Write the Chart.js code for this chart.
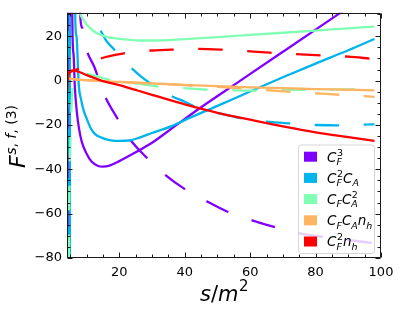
<!DOCTYPE html>
<html><head><meta charset="utf-8">
<script src="https://cdn.jsdelivr.net/npm/chart.js@4.4.0/dist/chart.umd.min.js"></script>
<style>html,body{margin:0;padding:0;background:#fff;}</style>
</head><body>
<canvas id="c" width="401" height="312"></canvas>
<script>
// ---- axis ranges & ticks ----
const xRange = [4, 100];
const yRange = [-80, 30.6];
const xTickValues = [20, 40, 60, 80, 100];
const yTickValues = [-80, -60, -40, -20, 0, 20];
const minorStep = 5;

// ---- legend / series names ----
const legendLabels = ['C_F^3', 'C_F^2C_A', 'C_FC_A^2', 'C_FC_An_h', 'C_F^2n_h'];
const seriesColors = ['#8000ff', '#00b4ec', '#80ffb4', '#ffb462', '#ff0000'];

// ---- data ----
const cf3SolidX = [4.1, 4.3, 5.6, 6.0, 6.4, 7.0, 7.6, 8.5, 10, 11.5, 13.5, 15, 17, 20, 25, 30, 37, 45, 57, 70, 80, 88, 95];
const cf3SolidY = [-1000, 1000, 30, 12, -3, -14, -21, -27.5, -33, -36.5, -38.5, -38.8, -38.3, -36.3, -32.3, -28, -20.5, -12, 0, 13, 23, 31, 38];
const cf3DashX = [4.1, 4.3, 8.0, 8.6, 10.1, 12.3, 15.6, 19.3, 23.3, 28.2, 34, 39.8, 46.2, 52.9, 60.6, 67.3, 74.6, 85, 98];
const cf3DashY = [-1000, 1000, 30.8, 24, 13.5, 6.4, -7, -16.8, -26.5, -34.5, -42.5, -48.7, -54, -59, -63, -66, -68.7, -71, -73.3];

const cf2caSolidX = [4.8, 5.0, 6.5, 6.9, 7.6, 8.3, 9.1, 10, 11.1, 12.5, 14.7, 17, 20, 23, 26, 30, 36, 40, 50, 60, 70, 80, 90, 98];
const cf2caSolidY = [-1000, 1000, 30, 20, -2, -8.5, -13.5, -17, -21, -24, -25.8, -26.8, -27.2, -27, -25.8, -23.6, -20.5, -17.8, -11.4, -4.9, 1.5, 7.7, 13.7, 18.8];
const cf2caDashX = [4.5, 4.7, 12.5, 14, 16, 18.7, 21, 23.8, 26.5, 29.4, 33, 36, 40, 44, 50, 57, 65, 72, 80, 87, 95, 98];
const cf2caDashY = [-1000, 1000, 30, 22.8, 18, 13.6, 9.5, 5.5, 2, -1.2, -4.5, -7, -9.5, -12.3, -14.6, -16.9, -18.5, -19.3, -20, -20.2, -19.8, -19.7];

const cfca2SolidX = [7.5, 7.9, 9, 10, 12, 14, 17, 20, 25, 30, 35, 40, 50, 60, 70, 80, 90, 98];
const cfca2SolidY = [36, 31, 27.5, 25.3, 22.5, 20.8, 19.5, 18.8, 18.2, 18.1, 18.3, 18.7, 19.6, 20.6, 21.6, 22.6, 23.6, 24.4];
const cfca2DashX = [4.2, 4.6, 5.0, 5.5, 6.5, 8, 10, 16.5, 20, 26.8, 32, 39.5, 46, 55, 62, 70, 80, 90, 98];
const cfca2DashY = [-400, -80, -30, -8, 1, 3.5, 3.2, 0.6, -0.3, -1.6, -2.7, -3.4, -4.0, -4.4, -4.5, -4.3, -4.1, -3.9, -3.7];

const cfcanhSolidX = [4.05, 10, 20, 30, 40, 50, 60, 70, 80, 90, 98];
const cfcanhSolidY = [1.0, 0.2, -0.6, -1.3, -1.9, -2.5, -3.0, -3.4, -3.8, -4.1, -4.4];
const cfcanhDashX = [4.05, 10, 20, 30, 40, 50, 60, 70, 80, 90, 98];
const cfcanhDashY = [1.0, 0.2, -0.6, -1.3, -2.0, -2.8, -3.7, -4.8, -5.7, -6.6, -7.3];

const cf2nhSolidX = [4.02, 4.3, 4.8, 5.6, 7, 10, 12.7, 15, 20, 25, 30, 35, 40, 50, 60, 70, 80, 90, 98];
const cf2nhSolidY = [-5, 1.5, 3.8, 4.6, 4.3, 2.5, 1, -0.2, -2.0, -4.2, -6.4, -8.6, -10.7, -14.5, -17.6, -20.6, -23.3, -25.5, -27.2];
const cf2nhDashX = [4.05, 5, 7, 9, 11, 14, 17, 21, 25, 30, 36, 44, 51, 59, 66, 74, 82, 90, 97];
const cf2nhDashY = [2, 3.8, 5, 6.6, 8.2, 9.9, 11.1, 12.2, 13, 13.6, 14, 14.3, 14, 13.3, 12.6, 12, 11.4, 10.8, 9.9];

// ---- styles ----
const LINE_W = 2.3;
const DASH = [24.5, 24.5];
// dash phase: x (data units) where one dash of each dashed curve begins
const dashPhaseX = [34, 36, 39.5, 79.8, 44.1];

const seriesList = [
  [cf3SolidX, cf3SolidY, 0, false], [cf3DashX, cf3DashY, 0, true],
  [cf2caSolidX, cf2caSolidY, 1, false], [cf2caDashX, cf2caDashY, 1, true],
  [cfca2SolidX, cfca2SolidY, 2, false], [cfca2DashX, cfca2DashY, 2, true],
  [cfcanhSolidX, cfcanhSolidY, 3, false], [cfcanhDashX, cfcanhDashY, 3, true],
  [cf2nhSolidX, cf2nhSolidY, 4, false], [cf2nhDashX, cf2nhDashY, 4, true]
];

const FONT = '"DejaVu Sans", "Liberation Sans", sans-serif';
const N = seriesList.length;
const datasets = seriesList.map(([xs, ys, ci, dashed], i) => ({
  label: legendLabels[ci] + (dashed ? ' (dashed)' : ''),
  data: xs.map((x, k) => ({x: x, y: ys[k]})),
  borderColor: seriesColors[ci],
  borderWidth: LINE_W,
  borderDash: dashed ? DASH : [],
  borderDashOffset: 0,
  phaseX: dashed ? dashPhaseX[ci] : null,
  borderCapStyle: 'butt',
  borderJoinStyle: 'round',
  pointRadius: 0,
  fill: false,
  cubicInterpolationMode: 'monotone',
  order: N - i
}));

// ---- simple mathtext renderer ----
function parseTex(s) {
  const toks = []; let i = 0;
  while (i < s.length) {
    const tok = {b: s[i++], sub: null, sup: null};
    while (i < s.length && (s[i] === '_' || s[i] === '^')) {
      const k = s[i++]; let arg;
      if (s[i] === '{') { const j = s.indexOf('}', i); arg = s.slice(i + 1, j); i = j + 1; }
      else { arg = s[i++]; }
      if (k === '_') tok.sub = arg; else tok.sup = arg;
    }
    toks.push(tok);
  }
  return toks;
}
function fontFor(ch, size) {
  return (/[A-Za-z]/.test(ch) ? 'italic ' : '') + size + 'px ' + FONT;
}
function drawStr(ctx, str, x, y, size) {
  let w = 0;
  for (const ch of str) {
    ctx.font = fontFor(ch, size);
    ctx.fillText(ch, x + w, y);
    w += ctx.measureText(ch).width;
  }
  return w;
}
function measureTex(ctx, tex, size, ssize) {
  let w = 0;
  for (const t of parseTex(tex)) {
    for (const ch of t.b) { ctx.font = fontFor(ch, size); w += ctx.measureText(ch).width; }
    let sw = 0;
    for (const part of [t.sub, t.sup]) {
      if (!part) continue;
      let pw = 0; for (const ch of part) { ctx.font = fontFor(ch, ssize); pw += ctx.measureText(ch).width; }
      sw = Math.max(sw, pw);
    }
    w += sw;
  }
  return w;
}
function drawTex(ctx, tex, x, y, size, ssize, subDy, supDy) {
  let cx = x;
  for (const t of parseTex(tex)) {
    cx += drawStr(ctx, t.b, cx, y, size);
    let sw = 0;
    if (t.sub) sw = Math.max(sw, drawStr(ctx, t.sub, cx, y + subDy, ssize));
    if (t.sup) sw = Math.max(sw, drawStr(ctx, t.sup, cx + 0.5, y - supDy, ssize) + 0.5);
    cx += sw;
  }
  return cx - x;
}

// length along the drawn (bezier) path up to pixel x = ax
function pathLengthTo(pts, ax) {
  let L = 0;
  for (let k = 0; k < pts.length - 1; k++) {
    const p0 = pts[k], p1 = pts[k + 1];
    const c0x = p0.cp2x ?? p0.x, c0y = p0.cp2y ?? p0.y;
    const c1x = p1.cp1x ?? p1.x, c1y = p1.cp1y ?? p1.y;
    let px = p0.x, py = p0.y;
    for (let s = 1; s <= 400; s++) {
      const t = s / 400, mt = 1 - t;
      const x = mt * mt * mt * p0.x + 3 * mt * mt * t * c0x + 3 * mt * t * t * c1x + t * t * t * p1.x;
      const y = mt * mt * mt * p0.y + 3 * mt * mt * t * c0y + 3 * mt * t * t * c1y + t * t * t * p1.y;
      L += Math.hypot(x - px, y - py); px = x; py = y;
      if (x >= ax) return L;
    }
  }
  return L;
}

const dashPhase = {
  id: 'dashPhase',
  afterRender(chart) {
    if (chart.$phased) return;
    chart.$phased = true;
    const P = DASH[0] + DASH[1];
    chart.data.datasets.forEach((ds, i) => {
      if (ds.phaseX == null) return;
      const pts = chart.getDatasetMeta(i).data;
      const L = pathLengthTo(pts, chart.scales.x.getPixelForValue(ds.phaseX));
      ds.borderDashOffset = (P - (L % P)) % P;
    });
    chart.update('none');
  }
};

const decor = {
  id: 'decor',
  afterDatasetsDraw(chart) {
    const {ctx, chartArea: a, scales: {x, y}} = chart;
    ctx.save();
    ctx.strokeStyle = '#1a1a1a';
    ctx.lineWidth = 1;
    const L = Math.round(a.left) + 0.5, R = Math.round(a.right) - 0.5;
    const T = Math.round(a.top) + 0.5, B = Math.round(a.bottom) - 0.5;
    ctx.beginPath();
    ctx.rect(L, T, R - L, B - T);
    for (let v = Math.ceil(xRange[0] / minorStep) * minorStep; v <= xRange[1]; v += minorStep) {
      const len = xTickValues.includes(v) ? 5 : 3;
      const px = Math.round(x.getPixelForValue(v)) + 0.5;
      ctx.moveTo(px, B); ctx.lineTo(px, B - len);
      ctx.moveTo(px, T); ctx.lineTo(px, T + len);
    }
    for (let v = yRange[0]; v <= yRange[1]; v += minorStep) {
      const len = yTickValues.includes(v) ? 5 : 3;
      const py = Math.round(y.getPixelForValue(v)) + 0.5;
      ctx.moveTo(L, py); ctx.lineTo(L + len, py);
      ctx.moveTo(R, py); ctx.lineTo(R - len, py);
    }
    ctx.stroke();
    ctx.restore();
  },
  afterDraw(chart) {
    const {ctx, chartArea: a} = chart;
    ctx.save();
    ctx.fillStyle = '#000';
    ctx.textBaseline = 'alphabetic';
    ctx.textAlign = 'left';
    // x axis title
    const xw = measureTex(ctx, 's/m^2', 21, 15);
    drawTex(ctx, 's/m^2', (a.left + a.right) / 2 - xw / 2, 301, 21, 15, 4, 10);
    // y axis title
    ctx.save();
    ctx.translate(25, 168);
    ctx.rotate(-Math.PI / 2);
    drawTex(ctx, 'F^{s, f, (3)}', 0, 0, 22, 14, 4, 9);
    ctx.restore();
    // legend
    const bx = 298.5, by = 145, bw = 76, bh = 108.5, r = 3;
    ctx.beginPath();
    ctx.moveTo(bx + r, by); ctx.lineTo(bx + bw - r, by); ctx.arcTo(bx + bw, by, bx + bw, by + r, r);
    ctx.lineTo(bx + bw, by + bh - r); ctx.arcTo(bx + bw, by + bh, bx + bw - r, by + bh, r);
    ctx.lineTo(bx + r, by + bh); ctx.arcTo(bx, by + bh, bx, by + bh - r, r);
    ctx.lineTo(bx, by + r); ctx.arcTo(bx, by, bx + r, by, r);
    ctx.closePath();
    ctx.fillStyle = 'rgba(255,255,255,0.8)';
    ctx.fill();
    ctx.strokeStyle = 'rgba(204,204,204,0.8)';
    ctx.lineWidth = 1;
    ctx.stroke();
    legendLabels.forEach((lab, i) => {
      const cy = 156.7 + i * 21.2;
      ctx.fillStyle = seriesColors[i];
      ctx.fillRect(304, cy - 5, 13, 10);
      ctx.fillStyle = '#000';
      drawTex(ctx, lab, 327, cy + 4.8, 13.5, 9.5, 3.5, 6);
    });
    ctx.restore();
  }
};

const tickFont = {family: FONT, size: 13};
new Chart(document.getElementById('c').getContext('2d'), {
  type: 'line',
  data: {datasets: datasets},
  options: {
    responsive: false,
    animation: false,
    devicePixelRatio: 1,
    layout: {padding: {top: 8, right: 20, left: 0, bottom: 0}},
    elements: {line: {capBezierPoints: false}},
    plugins: {legend: {display: false}, tooltip: {enabled: false}},
    scales: {
      x: {
        type: 'linear', min: xRange[0], max: xRange[1],
        grid: {display: false, drawTicks: false}, border: {display: false},
        ticks: {font: tickFont, color: '#000', padding: 7, maxRotation: 0, autoSkip: false},
        afterBuildTicks: s => { s.ticks = xTickValues.map(v => ({value: v})); },
        afterFit: s => { s.height = 54; }
      },
      y: {
        type: 'linear', min: yRange[0], max: yRange[1],
        grid: {display: false, drawTicks: false}, border: {display: false},
        ticks: {font: tickFont, color: '#000', padding: 5, autoSkip: false,
                callback: v => String(v).replace('-', '\u2212')},
        afterBuildTicks: s => { s.ticks = yTickValues.map(v => ({value: v})); },
        afterFit: s => { s.width = 67; }
      }
    }
  },
  plugins: [dashPhase, decor]
});
</script>
</body></html>
